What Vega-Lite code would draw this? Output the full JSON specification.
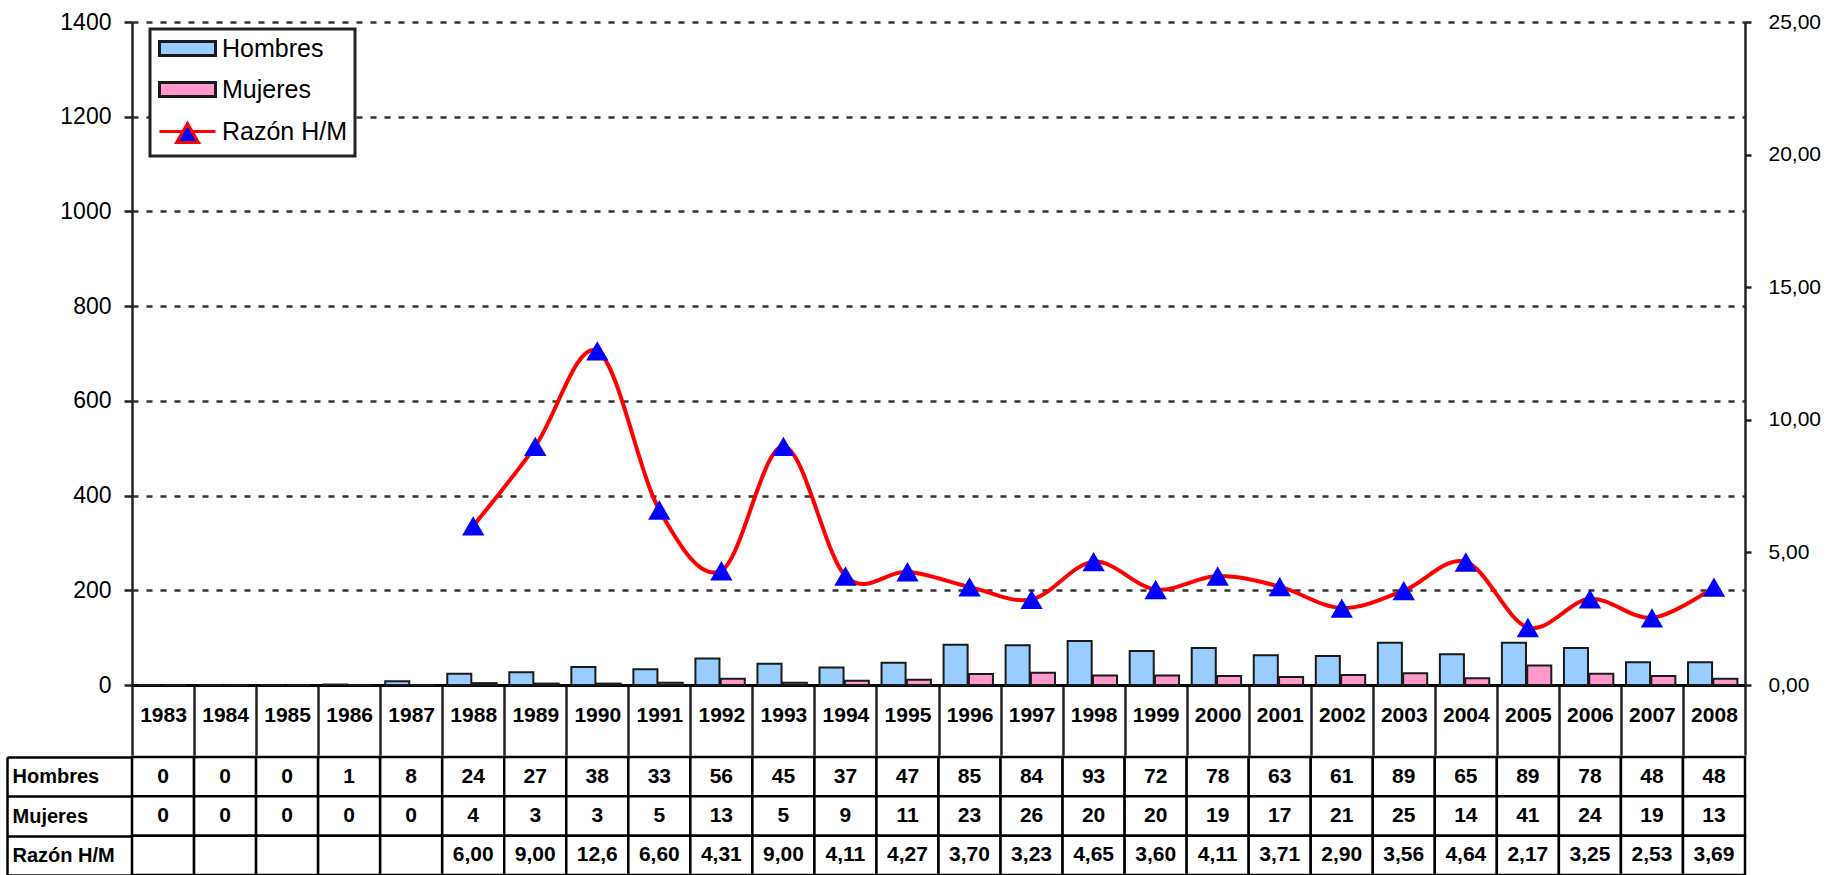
{
  "$schema": "https://vega.github.io/schema/vega-lite/v6.json",
  "padding": {"top": 11, "left": 5, "right": 5, "bottom": 0},
  "spacing": -12,
  "config": {
    "view": {"stroke": null},
    "font": "Liberation Sans",
    "locale": {"number": {"decimal": ",", "thousands": ".", "grouping": [3], "currency": ["", " €"]}},
    "legend": {
      "title": null, "orient": "none", "legendX": 18, "legendY": 7,
      "fillColor": "#fff", "strokeColor": "#222", "padding": 7,
      "symbolSize": 400, "labelOffset": 40, "rowPadding": 14,
      "labelFontSize": 25, "labelColor": "#000", "labelLimit": 300
    }
  },
  "datasets": {
    "d": [
      {"year": 1983, "Hombres": 0, "Mujeres": 0, "Razón H/M": null},
      {"year": 1984, "Hombres": 0, "Mujeres": 0, "Razón H/M": null},
      {"year": 1985, "Hombres": 0, "Mujeres": 0, "Razón H/M": null},
      {"year": 1986, "Hombres": 1, "Mujeres": 0, "Razón H/M": null},
      {"year": 1987, "Hombres": 8, "Mujeres": 0, "Razón H/M": null},
      {"year": 1988, "Hombres": 24, "Mujeres": 4, "Razón H/M": 6.00},
      {"year": 1989, "Hombres": 27, "Mujeres": 3, "Razón H/M": 9.00},
      {"year": 1990, "Hombres": 38, "Mujeres": 3, "Razón H/M": 12.6},
      {"year": 1991, "Hombres": 33, "Mujeres": 5, "Razón H/M": 6.60},
      {"year": 1992, "Hombres": 56, "Mujeres": 13, "Razón H/M": 4.31},
      {"year": 1993, "Hombres": 45, "Mujeres": 5, "Razón H/M": 9.00},
      {"year": 1994, "Hombres": 37, "Mujeres": 9, "Razón H/M": 4.11},
      {"year": 1995, "Hombres": 47, "Mujeres": 11, "Razón H/M": 4.27},
      {"year": 1996, "Hombres": 85, "Mujeres": 23, "Razón H/M": 3.70},
      {"year": 1997, "Hombres": 84, "Mujeres": 26, "Razón H/M": 3.23},
      {"year": 1998, "Hombres": 93, "Mujeres": 20, "Razón H/M": 4.65},
      {"year": 1999, "Hombres": 72, "Mujeres": 20, "Razón H/M": 3.60},
      {"year": 2000, "Hombres": 78, "Mujeres": 19, "Razón H/M": 4.11},
      {"year": 2001, "Hombres": 63, "Mujeres": 17, "Razón H/M": 3.71},
      {"year": 2002, "Hombres": 61, "Mujeres": 21, "Razón H/M": 2.90},
      {"year": 2003, "Hombres": 89, "Mujeres": 25, "Razón H/M": 3.56},
      {"year": 2004, "Hombres": 65, "Mujeres": 14, "Razón H/M": 4.64},
      {"year": 2005, "Hombres": 89, "Mujeres": 41, "Razón H/M": 2.17},
      {"year": 2006, "Hombres": 78, "Mujeres": 24, "Razón H/M": 3.25},
      {"year": 2007, "Hombres": 48, "Mujeres": 19, "Razón H/M": 2.53},
      {"year": 2008, "Hombres": 48, "Mujeres": 13, "Razón H/M": 3.69}
    ]
  },
  "vconcat": [
    {
      "width": 1613,
      "height": 663,
      "data": {"name": "d"},
      "layer": [
        {
          "transform": [{"fold": ["Hombres", "Mujeres"], "as": ["serie", "n"]}],
          "mark": {"type": "bar", "strokeWidth": 2, "strokeOpacity": 1, "fillOpacity": 1},
          "encoding": {
            "x": {
              "field": "year", "type": "ordinal",
              "scale": {"paddingInner": 0, "paddingOuter": 0},
              "axis": {
                "title": null, "orient": "bottom", "tickBand": "extent",
                "tickSize": 70, "tickWidth": 2.5, "tickColor": "#222",
                "domainColor": "#000", "domainWidth": 3,
                "labelAngle": 0, "labelBaseline": "middle", "labelPadding": -40,
                "labelFont": "Liberation Sans",
                "labelFontSize": 21, "labelFontWeight": "bold", "labelColor": "#000",
                "labelOverlap": false, "grid": false
              }
            },
            "xOffset": {
              "field": "serie", "type": "nominal",
              "scale": {"domain": ["Hombres", "Mujeres"], "paddingInner": 0.05, "paddingOuter": 0.25, "align": 0.4}
            },
            "y": {
              "field": "n", "type": "quantitative",
              "scale": {"domain": [0, 1400]},
              "axis": {
                "title": null, "values": [0, 200, 400, 600, 800, 1000, 1200, 1400], "format": "d",
                "grid": true, "gridDash": [6, 8], "gridColor": "#333", "gridWidth": 2.5,
                "domainColor": "#222", "domainWidth": 2.5, "tickColor": "#222", "tickWidth": 2.5,
                "tickSize": 8, "labelPadding": 13, "labelFontSize": 23, "labelColor": "#000",
                "minExtent": 125, "maxExtent": 125
              }
            },
            "fill": {
              "field": "serie", "type": "nominal",
              "scale": {"domain": ["Hombres", "Mujeres", "Razón H/M"], "range": ["#99ccff", "#ff99cc", "#0000ff"]},
              "legend": {
                "encode": {
                  "legend": {"update": {"strokeWidth": {"value": 3}}},
                  "symbols": {
                    "update": {
                      "shape": {"signal": "datum.value === 'Razón H/M' ? 'M-1,0H1.34M2.26,0H4.6M1.8,-0.8L2.9,1.1L0.7,1.1Z' : 'M-1,-0.7H4.6V0.7H-1Z'"},
                      "strokeWidth": {"value": 3}
                    }
                  }
                }
              }
            },
            "stroke": {
              "field": "serie", "type": "nominal",
              "scale": {"domain": ["Hombres", "Mujeres", "Razón H/M"], "range": ["#1a1a1a", "#1a1a1a", "#ff0000"]},
              "legend": {
                "encode": {
                  "legend": {"update": {"strokeWidth": {"value": 3}}},
                  "symbols": {
                    "update": {
                      "shape": {"signal": "datum.value === 'Razón H/M' ? 'M-1,0H1.34M2.26,0H4.6M1.8,-0.8L2.9,1.1L0.7,1.1Z' : 'M-1,-0.7H4.6V0.7H-1Z'"},
                      "strokeWidth": {"value": 3}
                    }
                  }
                }
              }
            }
          }
        },
        {
          "encoding": {
            "x": {"field": "year", "type": "ordinal"},
            "y": {
              "field": "Razón H/M", "type": "quantitative",
              "scale": {"domain": [0, 25]},
              "axis": {
                "title": null, "orient": "right", "values": [0, 5, 10, 15, 20, 25], "format": ".2f",
                "grid": false, "domainColor": "#222", "domainWidth": 2.5,
                "tickColor": "#222", "tickWidth": 2.5, "tickSize": 6, "labelPadding": 17,
                "labelFontSize": 21, "labelColor": "#000"
              }
            }
          },
          "layer": [
            {
              "mark": {"type": "line", "interpolate": "cardinal", "strokeWidth": 4},
              "encoding": {
                "stroke": {
                  "datum": "Razón H/M",
                  "legend": {
                    "encode": {
                      "legend": {"update": {"strokeWidth": {"value": 3}}},
                      "symbols": {
                        "update": {
                          "shape": {"signal": "datum.value === 'Razón H/M' ? 'M-1,0H1.34M2.26,0H4.6M1.8,-0.8L2.9,1.1L0.7,1.1Z' : 'M-1,-0.7H4.6V0.7H-1Z'"},
                          "strokeWidth": {"value": 3}
                        }
                      }
                    }
                  }
                }
              }
            },
            {
              "mark": {"type": "point", "shape": "triangle-up", "filled": true, "color": "#0000ff", "opacity": 1, "size": 500}
            }
          ]
        }
      ],
      "resolve": {"scale": {"y": "independent"}, "axis": {"y": "independent"}}
    },
    {
      "width": 1613,
      "height": 118,
      "data": {"name": "d"},
      "transform": [{"fold": ["Hombres", "Mujeres", "Razón H/M"], "as": ["fila", "valor"]}],
      "encoding": {
        "x": {"field": "year", "type": "ordinal", "axis": null, "scale": {"paddingInner": 0, "paddingOuter": 0}},
        "y": {
          "field": "fila", "type": "nominal",
          "scale": {"domain": ["Hombres", "Mujeres", "Razón H/M"], "paddingInner": 0, "paddingOuter": 0},
          "axis": {
            "title": null, "orient": "left", "offset": 125, "tickBand": "extent",
            "tickSize": -125, "tickWidth": 2.5, "tickColor": "#000",
            "domain": true, "domainColor": "#000", "domainWidth": 2.5,
            "labelAlign": "left", "labelPadding": 120,
            "labelFont": "Liberation Sans",
            "labelFontSize": 20, "labelFontWeight": "bold", "labelColor": "#000",
            "minExtent": 0, "maxExtent": 0, "grid": false
          }
        }
      },
      "layer": [
        {"mark": {"type": "rect", "fill": "#fff", "stroke": "#000", "strokeWidth": 2.5}},
        {
          "transform": [{"filter": "datum.fila !== 'Razón H/M'"}],
          "mark": {"type": "text", "font": "Liberation Sans", "fontSize": 21, "fontWeight": "bold", "color": "#000"},
          "encoding": {"text": {"field": "valor", "type": "quantitative", "format": "d"}}
        },
        {
          "transform": [{"filter": "datum.fila === 'Razón H/M' && datum.valor != null"}],
          "mark": {"type": "text", "font": "Liberation Sans", "fontSize": 21, "fontWeight": "bold", "color": "#000"},
          "encoding": {"text": {"field": "valor", "type": "quantitative", "format": ".3r"}}
        }
      ]
    }
  ]
}
